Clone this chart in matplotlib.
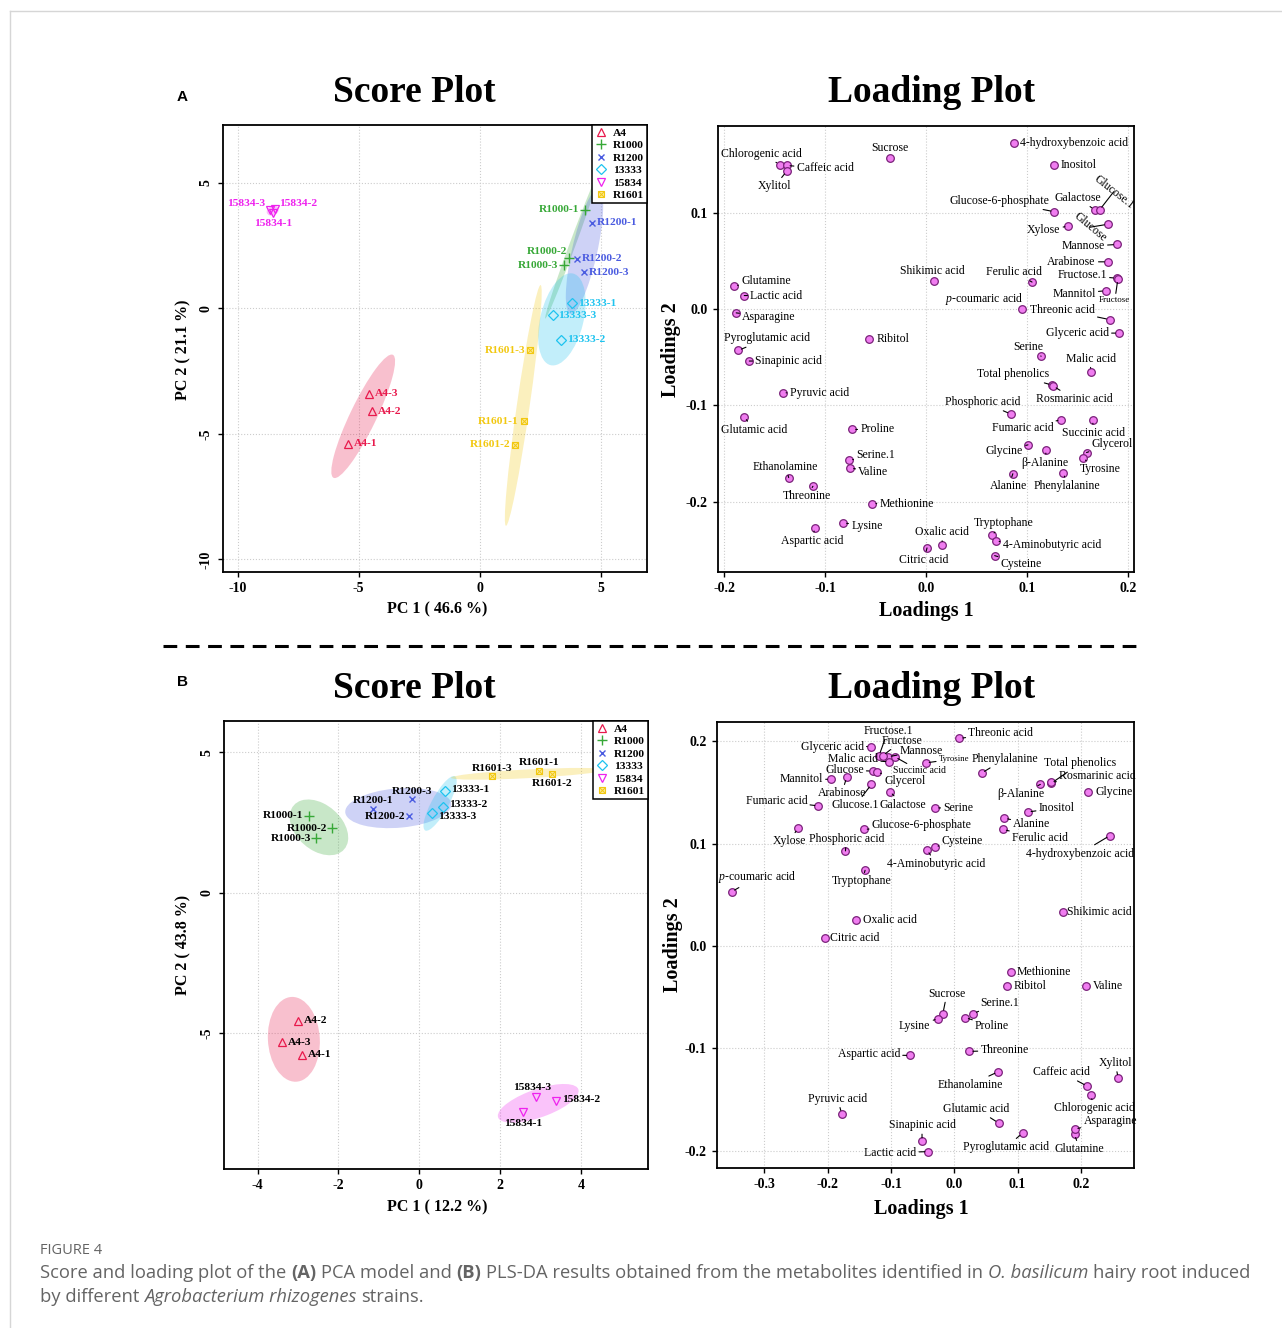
import numpy as np
import matplotlib
matplotlib.use('Agg')
import matplotlib.pyplot as plt
from matplotlib.patches import Ellipse
from matplotlib.lines import Line2D

plt.rcParams['font.family'] = ['Liberation Serif', 'DejaVu Serif']
plt.rcParams['axes.unicode_minus'] = False
plt.rcParams['mathtext.fontset'] = 'custom'
plt.rcParams['mathtext.rm'] = 'Liberation Serif'
plt.rcParams['mathtext.it'] = 'Liberation Serif:italic'

# ---- score data ----
samples = ['A4-1', 'A4-2', 'A4-3', 'R1000-1', 'R1000-2', 'R1000-3',
           'R1200-1', 'R1200-2', 'R1200-3', '13333-1', '13333-2', '13333-3',
           '15834-1', '15834-2', '15834-3', 'R1601-1', 'R1601-2', 'R1601-3']
pca_pc1 = [-5.43, -4.44, -4.57, 4.35, 3.68, 3.46, 4.64, 4.01, 4.31,
           3.80, 3.36, 3.00, -8.53, -8.46, -8.66, 1.82, 1.47, 2.09]
pca_pc2 = [-5.39, -4.10, -3.41, 3.93, 2.00, 1.71, 3.40, 1.97, 1.43,
           0.21, -1.26, -0.27, 3.80, 3.96, 3.90, -4.50, -5.43, -1.67]
pls_pc1 = [-2.90, -3.01, -3.40, -2.74, -2.16, -2.55, -1.14, -0.25, -0.18,
           0.635, 0.577, 0.32, 2.56, 3.37, 2.88, 2.95, 3.27, 1.80]
pls_pc2 = [-5.78, -4.56, -5.33, 2.74, 2.30, 1.93, 2.97, 2.74, 3.32,
           3.62, 3.06, 2.85, -7.82, -7.41, -7.28, 4.32, 4.22, 4.15]
groups = ['A4', 'R1000', 'R1200', '13333', '15834', 'R1601']

# ---- loading data ----
metabolites = ['Chlorogenic acid', 'Caffeic acid', 'Xylitol', 'Sucrose', '4-hydroxybenzoic acid',
               'Inositol', 'Glucose-6-phosphate', 'Galactose', 'Glucose.1', 'Xylose', 'Glucose',
               'Mannose', 'Arabinose', 'Fructose.1', 'Fructose', 'Shikimic acid', 'Ferulic acid',
               'Mannitol', 'Glutamine', 'Lactic acid', 'Asparagine', 'p-coumaric acid', 'Threonic acid',
               'Glyceric acid', 'Ribitol', 'Pyroglutamic acid', 'Sinapinic acid', 'Serine', 'Malic acid',
               'Total phenolics', 'Rosmarinic acid', 'Pyruvic acid', 'Phosphoric acid', 'Glutamic acid',
               'Fumaric acid', 'Succinic acid', 'Proline', 'Glycine', 'β-Alanine', 'Glycerol', 'Serine.1',
               'Tyrosine', 'Valine', 'Alanine', 'Phenylalanine', 'Ethanolamine', 'Threonine', 'Methionine',
               'Lysine', 'Aspartic acid', 'Tryptophane', '4-Aminobutyric acid', 'Oxalic acid',
               'Citric acid', 'Cysteine']
pca_load1 = [-0.145, -0.138, -0.138, -0.036, 0.087, 0.127, 0.127, 0.167, 0.172, 0.141, 0.180,
             0.189, 0.180, 0.189, 0.190, 0.008, 0.105, 0.178, -0.190, -0.180, -0.188, 0.095, 0.182,
             0.191, -0.056, -0.186, -0.175, 0.114, 0.163, 0.125, 0.126, -0.142, 0.084, -0.180,
             0.134, 0.165, -0.073, 0.101, 0.119, 0.159, -0.076, 0.155, -0.075, 0.086, 0.136,
             -0.136, -0.112, -0.053, -0.082, -0.110, 0.065, 0.069, 0.016, 0.001, 0.068]
pca_load2 = [0.150, 0.149, 0.143, 0.157, 0.172, 0.150, 0.101, 0.103, 0.103, 0.086, 0.088,
             0.067, 0.049, 0.032, 0.031, 0.029, 0.028, 0.019, 0.024, 0.014, -0.004, 0.000, -0.011,
             -0.025, -0.031, -0.043, -0.054, -0.049, -0.065, -0.079, -0.080, -0.087, -0.109, -0.112,
             -0.115, -0.115, -0.125, -0.141, -0.146, -0.149, -0.157, -0.155, -0.165, -0.171, -0.170,
             -0.175, -0.184, -0.202, -0.222, -0.227, -0.235, -0.241, -0.245, -0.248, -0.256]
pls_load1 = [0.216, 0.210, 0.259, -0.018, 0.246, 0.116, -0.143, -0.102, -0.131, -0.247, -0.129,
             -0.105, -0.170, -0.119, -0.113, 0.172, 0.077, -0.195, 0.190, -0.041, 0.190, -0.352, 0.008,
             -0.132, 0.084, 0.108, -0.051, -0.030, -0.103, 0.153, 0.153, -0.178, -0.172, 0.070,
             -0.215, -0.094, 0.017, 0.211, 0.136, -0.122, 0.030, -0.045, 0.208, 0.079, 0.043,
             0.069, 0.024, 0.089, -0.025, -0.070, -0.141, -0.043, -0.156, -0.205, -0.031]
pls_load2 = [-0.146, -0.137, -0.129, -0.066, 0.108, 0.131, 0.114, 0.151, 0.158, 0.115, 0.171,
             0.185, 0.165, 0.186, 0.186, 0.033, 0.114, 0.163, -0.184, -0.201, -0.179, 0.053, 0.203,
             0.195, -0.039, -0.183, -0.191, 0.135, 0.180, 0.159, 0.160, -0.164, 0.093, -0.173,
             0.137, 0.185, -0.070, 0.151, 0.158, 0.170, -0.066, 0.179, -0.039, 0.125, 0.169,
             -0.123, -0.103, -0.025, -0.071, -0.107, 0.074, 0.094, 0.025, 0.008, 0.097]

# ---- styles ----
W, H = 1282, 1328
colors = {'A4': '#E8194C', 'R1000': '#37A837', 'R1200': '#4A5BE0',
          '13333': '#1EC3EF', '15834': '#EE22EE', 'R1601': '#F2C811'}
mstyle = {'A4': dict(marker='^', mfc='none', ms=6, mew=0.9),
          'R1000': dict(marker='+', ms=7, mew=1.0),
          'R1200': dict(marker='x', ms=5, mew=1.0),
          '13333': dict(marker='D', mfc='none', ms=4.6, mew=0.9),
          '15834': dict(marker='v', mfc='none', ms=6, mew=0.9),
          'R1601': dict(marker='s', mfc='#FBEA9A', ms=5, mew=0.8)}

# label placement: dx, dy (pixels, y up), horizontal alignment
score_pos_a = {'15834-3': (-5, 7, 'right'), '15834-2': (4, 5, 'left'), '15834-1': (0, -11, 'center'),
               'R1000-1': (-6, 0, 'right'), 'R1000-2': (-2, 7, 'right'), 'R1000-3': (-5, 0, 'right')}
score_pos_b = {'R1601-3': (0, 8, 'center'), 'R1601-1': (0, 9, 'center'), 'R1601-2': (0, -9, 'center'),
               '13333-1': (6, 1, 'left'), '13333-2': (6, 2, 'left'), '13333-3': (6, -4, 'left'),
               'R1200-3': (0, 8, 'center'), 'R1200-1': (0, 9, 'center'), 'R1200-2': (-4, -1, 'right'),
               '15834-3': (-4, 10, 'center'), '15834-2': (6, 1, 'left'), '15834-1': (0, -11, 'center')}
score_default_a = {'A4': (6, 0, 'left'), 'R1200': (5, 0, 'left'), '13333': (6, 0, 'left'),
                   'R1601': (-5, 0, 'right')}
score_default_b = {'A4': (6, 0, 'left'), 'R1000': (-5, 0, 'right')}

load_pos_a = {
    'Chlorogenic acid': (-18, 11, 'center', 1), 'Caffeic acid': (10, -3, 'left', 1),
    'Xylitol': (-12, -15, 'center', 1), 'Sucrose': (0, 10, 'center', 0),
    '4-hydroxybenzoic acid': (6, 0, 'left', 0), 'Inositol': (6, 0, 'left', 0),
    'Glucose-6-phosphate': (-5, 11, 'right', 1), 'Galactose': (-17, 12, 'center', 1),
    'Glucose.1': (14, 18, 'center', 1), 'Xylose': (-8, -4, 'right', 1),
    'Glucose': (-18, -3, 'center', 1), 'Mannose': (-12, -2, 'right', 1),
    'Arabinose': (-12, 0, 'right', 1), 'Fructose.1': (-10, 3, 'right', 1),
    'Fructose': (-3, -21, 'center', 1), 'Shikimic acid': (-2, 10, 'center', 0),
    'Ferulic acid': (-18, 10, 'center', 1), 'Mannitol': (-10, -3, 'right', 1),
    'Glutamine': (7, 5, 'left', 1), 'Lactic acid': (6, 0, 'left', 1),
    'Asparagine': (6, -4, 'left', 1), 'p-coumaric acid': (2, 10, 'right', 0),
    'Threonic acid': (-15, 10, 'right', 1), 'Glyceric acid': (-10, 0, 'right', 1),
    'Ribitol': (7, 0, 'left', 0), 'Pyroglutamic acid': (29, 12, 'center', 1),
    'Sinapinic acid': (6, 0, 'left', 1), 'Serine': (-13, 9, 'center', 1),
    'Malic acid': (0, 13, 'center', 1), 'Total phenolics': (-39, 11, 'center', 1),
    'Rosmarinic acid': (21, -13, 'center', 1), 'Pyruvic acid': (7, 0, 'left', 1),
    'Phosphoric acid': (-28, 12, 'center', 1), 'Glutamic acid': (10, -13, 'center', 1),
    'Fumaric acid': (-8, -8, 'right', 1), 'Succinic acid': (1, -13, 'center', 1),
    'Proline': (8, 0, 'left', 1), 'Glycine': (-5, -6, 'right', 1),
    'β-Alanine': (-1, -13, 'center', 1), 'Glycerol': (5, 9, 'left', 1),
    'Serine.1': (7, 5, 'left', 1), 'Tyrosine': (18, -11, 'center', 1),
    'Valine': (8, -4, 'left', 1), 'Alanine': (-4, -12, 'center', 1),
    'Phenylalanine': (4, -13, 'center', 1), 'Ethanolamine': (-3, 11, 'center', 1),
    'Threonine': (-6, -10, 'center', 1), 'Methionine': (7, 0, 'left', 1),
    'Lysine': (8, -3, 'left', 1), 'Aspartic acid': (-3, -13, 'center', 1),
    'Tryptophane': (12, 12, 'center', 1), '4-Aminobutyric acid': (7, -4, 'left', 1),
    'Oxalic acid': (0, 13, 'center', 1), 'Citric acid': (-3, -12, 'center', 1),
    'Cysteine': (6, -8, 'left', 1)}
load_pos_b = {
    'Threonic acid': (9, 5, 'left', 1), 'Glyceric acid': (-7, 0, 'right', 1),
    'Fructose.1': (9, 25, 'center', 1), 'Fructose': (19, 15, 'center', 1),
    'Mannose': (12, 6, 'left', 1), 'Malic acid': (-11, 3, 'right', 1),
    'Succinic acid': (25, -14, 'center', 1), 'Tyrosine': (13, 4, 'left', 1),
    'Phenylalanine': (23, 14, 'center', 1), 'Glucose': (-9, 1, 'right', 1),
    'Glycerol': (7, -9, 'left', 1), 'Mannitol': (-8, 0, 'right', 1),
    'Arabinose': (-5, -16, 'center', 1), 'Glucose.1': (-16, -21, 'center', 1),
    'Galactose': (13, -13, 'center', 1), 'Total phenolics': (29, 20, 'center', 1),
    'Rosmarinic acid': (8, 6, 'left', 1), 'β-Alanine': (-20, -10, 'center', 1),
    'Glycine': (8, 0, 'left', 0), 'Fumaric acid': (-11, 5, 'right', 1),
    'Serine': (8, 0, 'left', 1), 'Inositol': (11, 4, 'left', 1),
    'Alanine': (9, -6, 'left', 1), 'Ferulic acid': (9, -9, 'left', 1),
    'Xylose': (-9, -13, 'center', 1), 'Glucose-6-phosphate': (8, 4, 'left', 1),
    '4-hydroxybenzoic acid': (-30, -18, 'center', 1), 'Phosphoric acid': (1, 12, 'center', 1),
    '4-Aminobutyric acid': (9, -14, 'center', 1), 'Cysteine': (7, 6, 'left', 1),
    'Tryptophane': (-3, -11, 'center', 1), 'p-coumaric acid': (26, 15, 'center', 1),
    'Shikimic acid': (4, 0, 'left', 0), 'Oxalic acid': (7, 0, 'left', 0),
    'Citric acid': (5, 0, 'left', 0), 'Methionine': (6, 0, 'left', 0),
    'Ribitol': (6, 0, 'left', 0), 'Valine': (7, 0, 'left', 0),
    'Sucrose': (4, 20, 'center', 1), 'Lysine': (-8, -7, 'right', 1),
    'Serine.1': (7, 11, 'left', 1), 'Proline': (10, -8, 'left', 1),
    'Threonine': (11, 1, 'left', 1), 'Aspartic acid': (-10, 1, 'right', 1),
    'Xylitol': (-3, 15, 'center', 1), 'Ethanolamine': (-28, -13, 'center', 1),
    'Caffeic acid': (-26, 14, 'center', 1), 'Chlorogenic acid': (3, -13, 'center', 1),
    'Pyruvic acid': (-4, 15, 'center', 1), 'Glutamic acid': (-22, 14, 'center', 1),
    'Asparagine': (9, 8, 'left', 1), 'Glutamine': (5, -15, 'center', 1),
    'Pyroglutamic acid': (-17, -14, 'center', 1), 'Sinapinic acid': (0, 16, 'center', 1),
    'Lactic acid': (-12, -1, 'right', 1)}
special_a = {'Glucose.1': dict(rotation=-38), 'Glucose': dict(rotation=-40),
             'Fructose': dict(fontsize=6.5)}
special_b = {'Tyrosine': dict(fontsize=6.3), 'Succinic acid': dict(fontsize=7)}


def px_rect(x0, y0, x1, y1):
    return [x0 / W, 1 - y1 / H, (x1 - x0) / W, (y1 - y0) / H]


def conf_ellipse(ax, x, y, color):
    x, y = np.asarray(x), np.asarray(y)
    vals, vecs = np.linalg.eigh(np.cov(x, y))
    order = vals.argsort()[::-1]
    vals, vecs = vals[order], vecs[:, order]
    angle = np.degrees(np.arctan2(vecs[1, 0], vecs[0, 0]))
    k = np.sqrt(5.991)  # 95 % chi-square, 2 dof
    e = Ellipse((x.mean(), y.mean()), 2 * k * np.sqrt(vals[0]), 2 * k * np.sqrt(vals[1]),
                angle=angle, facecolor=color, alpha=0.27, edgecolor='none', zorder=1)
    ax.add_patch(e)


def style_axes(ax, xt, yt, xfmt, yfmt, rot_y):
    ax.set_xticks(xt)
    ax.set_yticks(yt)
    ax.set_xticklabels([xfmt.format(v) for v in xt])
    ax.set_yticklabels([yfmt.format(v) for v in yt])
    ax.grid(True, ls=':', color='#cccccc', lw=0.8)
    ax.set_axisbelow(True)
    ax.tick_params(direction='out', length=3.5, width=1, pad=4, labelsize=10)
    if rot_y:
        ax.tick_params(axis='y', labelrotation=90)
        for t in ax.get_yticklabels():
            t.set_va('center')
    for t in ax.get_xticklabels() + ax.get_yticklabels():
        t.set_fontweight('bold')
    for s in ax.spines.values():
        s.set_linewidth(1.3)


def score_panel(ax, pc1, pc2, pos, default, colored):
    grp = np.array([s.rsplit('-', 1)[0] for s in samples])
    pc1, pc2 = np.array(pc1), np.array(pc2)
    handles = []
    for g in groups:
        m = grp == g
        c = colors[g]
        conf_ellipse(ax, pc1[m], pc2[m], c)
        ax.plot(pc1[m], pc2[m], ls='none', color=c, mec=c, zorder=3, **mstyle[g])
        h = Line2D([], [], ls='none', color=c, mec=c, **mstyle[g])
        if g == 'R1601':
            ax.plot(pc1[m], pc2[m], ls='none', marker='x', ms=4, mew=0.7, color=c, zorder=4)
            h = (h, Line2D([], [], ls='none', marker='x', ms=4, mew=0.7, color=c))
        handles.append(h)
    for name, x, y, g in zip(samples, pc1, pc2, grp):
        dx, dy, ha = pos.get(name, default.get(g, (0, 0, 'center')))
        ax.annotate(name, (x, y), xytext=(dx, dy), textcoords='offset pixels',
                    ha=ha, va='center', fontsize=8.2, fontweight='bold',
                    color=colors[g] if colored else 'black', zorder=5)
    leg = ax.legend(handles, groups, loc='upper right', borderaxespad=0, fancybox=False,
                    edgecolor='black', framealpha=1, handlelength=1.0, handletextpad=0.6,
                    labelspacing=0.22, borderpad=0.25,
                    prop=dict(family='Liberation Serif', weight='bold', size=8.2))
    leg.get_frame().set_linewidth(1.1)


def loading_panel(ax, l1, l2, pos, special):
    ax.plot(l1, l2, 'o', ms=5.5, mfc='#F07DF0', mec='#7A227A', mew=0.9, zorder=4)
    for name, x, y in zip(metabolites, l1, l2):
        dx, dy, ha, line = pos[name]
        label = r'$p$-coumaric acid' if name == 'p-coumaric acid' else name
        kw = dict(fontsize=8.5)
        kw.update(special.get(name, {}))
        arrow = dict(arrowstyle='-', lw=0.8, color='black', shrinkA=0, shrinkB=2.5) if line else None
        ax.annotate(label, (x, y), xytext=(dx, dy), textcoords='offset pixels',
                    ha=ha, va='center', arrowprops=arrow, zorder=5, **kw)


fig = plt.figure(figsize=(W / 100, H / 100), dpi=100)

# ---- panel A ----
ax_sa = fig.add_axes(px_rect(223, 125, 647, 572))
ax_sa.set_xlim(-10.6, 6.9)
ax_sa.set_ylim(-10.5, 7.3)
style_axes(ax_sa, [-10, -5, 0, 5], [-10, -5, 0, 5], '{:g}', '{:g}', True)
score_panel(ax_sa, pca_pc1, pca_pc2, score_pos_a, score_default_a, True)

ax_la = fig.add_axes(px_rect(718, 126, 1134, 572))
ax_la.set_xlim(-0.206, 0.206)
ax_la.set_ylim(-0.273, 0.190)
style_axes(ax_la, [-0.2, -0.1, 0.0, 0.1, 0.2], [-0.2, -0.1, 0.0, 0.1], '{:.1f}', '{:.1f}', False)
loading_panel(ax_la, pca_load1, pca_load2, load_pos_a, special_a)

# ---- panel B ----
ax_sb = fig.add_axes(px_rect(224, 721, 648, 1169))
ax_sb.set_xlim(-4.83, 5.65)
ax_sb.set_ylim(-9.84, 6.11)
style_axes(ax_sb, [-4, -2, 0, 2, 4], [-5, 0, 5], '{:g}', '{:g}', True)
score_panel(ax_sb, pls_pc1, pls_pc2, score_pos_b, score_default_b, False)

ax_lb = fig.add_axes(px_rect(717, 722, 1134, 1168))
ax_lb.set_xlim(-0.375, 0.284)
ax_lb.set_ylim(-0.217, 0.219)
style_axes(ax_lb, [-0.3, -0.2, -0.1, 0.0, 0.1, 0.2], [-0.2, -0.1, 0.0, 0.1, 0.2],
           '{:.1f}', '{:.1f}', False)
loading_panel(ax_lb, pls_load1, pls_load2, load_pos_b, special_b)


def ftext(x, y, s, **kw):
    return fig.text(x / W, 1 - y / H, s, ha=kw.pop('ha', 'center'), va=kw.pop('va', 'center'), **kw)


# titles and axis labels
for y0 in (92, 688):
    ftext(414, y0, 'Score Plot', fontsize=27, fontweight='bold')
    ftext(932, y0, 'Loading Plot', fontsize=27, fontweight='bold')
ftext(437, 609, 'PC 1 ( 46.6 %)', fontsize=11.5, fontweight='bold')
ftext(183, 350, 'PC 2 ( 21.1 %)', fontsize=11.5, fontweight='bold', rotation=90)
ftext(926, 611, 'Loadings 1', fontsize=14.5, fontweight='bold')
ftext(671, 350, 'Loadings 2', fontsize=14.5, fontweight='bold', rotation=90)
ftext(437, 1207, 'PC 1 ( 12.2 %)', fontsize=11.5, fontweight='bold')
ftext(183, 945, 'PC 2 ( 43.8 %)', fontsize=11.5, fontweight='bold', rotation=90)
ftext(921, 1209, 'Loadings 1', fontsize=14.5, fontweight='bold')
ftext(673, 945, 'Loadings 2', fontsize=14.5, fontweight='bold', rotation=90)
ftext(182, 97, 'A', fontsize=11, fontweight='bold', family='Liberation Sans')
ftext(182, 682, 'B', fontsize=11, fontweight='bold', family='Liberation Sans')

# separator and page frame
fig.add_artist(Line2D([163 / W, 1138 / W], [1 - 646 / H] * 2, color='black', lw=2.2,
                      ls=(0, (4.5, 2.8))))
fig.add_artist(Line2D([10 / W, 1], [1 - 11 / H] * 2, color='#d6d6d6', lw=1))
fig.add_artist(Line2D([10 / W, 10 / W], [0, 1 - 11 / H], color='#d6d6d6', lw=1))

# caption
cap_color = '#646464'
cap_font = 'Open Sans'
cap_size = 13.2
renderer = fig.canvas.get_renderer()
styles = {'n': {}, 'b': dict(fontweight='bold'), 'i': dict(fontstyle='italic')}


def rich_line(x0, y0, parts):
    x = x0
    for k, (txt, st) in enumerate(parts):
        t = ftext(x, y0, txt, ha='left', fontsize=cap_size, color=cap_color,
                  family=cap_font, **styles[st])
        x += t.get_window_extent(renderer).width
        a = ftext(0, -100, 'a a', ha='left', fontsize=cap_size, family=cap_font, **styles[st])
        b = ftext(0, -100, 'aa', ha='left', fontsize=cap_size, family=cap_font, **styles[st])
        x += a.get_window_extent(renderer).width - b.get_window_extent(renderer).width
        a.remove()
        b.remove()


ftext(40, 1250, 'FIGURE 4', ha='left', fontsize=10.5, color=cap_color, family=cap_font)
rich_line(40, 1273, [('Score and loading plot of the', 'n'), ('(A)', 'b'), ('PCA model and', 'n'),
                     ('(B)', 'b'),
                     ('PLS-DA results obtained from the metabolites identified in', 'n'),
                     ('O. basilicum', 'i'), ('hairy root induced', 'n')])
rich_line(40, 1297, [('by different', 'n'), ('Agrobacterium rhizogenes', 'i'), ('strains.', 'n')])

fig.savefig('out.png', dpi=100)
